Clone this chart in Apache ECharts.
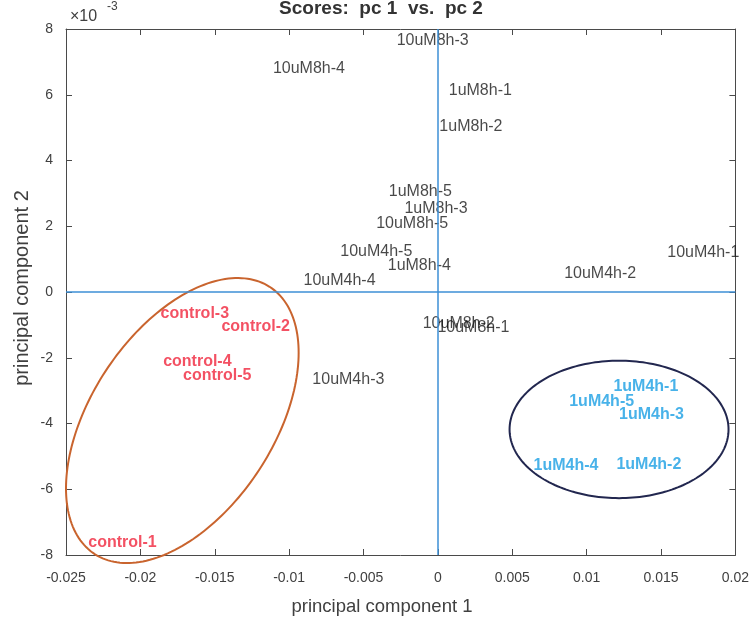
<!DOCTYPE html>
<html>
<head>
<meta charset="utf-8">
<script src="https://cdn.jsdelivr.net/npm/echarts/dist/echarts.min.js"></script>
<style>
  html, body { margin: 0; padding: 0; background: #ffffff; }
  #chart { width: 752px; height: 625px; }
</style>
</head>
<body>
<div id="chart"></div>
<script>
const FONT = '"Liberation Sans", Arial, Helvetica, sans-serif';

// PCA scores. pc1 in raw units, pc2 in units of 1e-3 (see the axis multiplier).
const otherLabels = ['10uM8h-3', '10uM8h-4', '1uM8h-1', '1uM8h-2', '1uM8h-5', '1uM8h-3', '10uM8h-5',
  '10uM4h-5', '1uM8h-4', '10uM4h-4', '10uM8h-2', '10uM8h-1', '10uM4h-3', '10uM4h-2', '10uM4h-1'];
const otherPc1 = [-0.00277, -0.01109, 0.00073, 0.00010, -0.00330, -0.00225, -0.00415,
  -0.00656, -0.00337, -0.00903, -0.00102, -0.00003, -0.00844, 0.00849, 0.01542];
const otherPc2 = [7.64, 6.80, 6.12, 5.03, 3.05, 2.53, 2.07,
  1.23, 0.79, 0.34, -0.96, -1.08, -2.65, 0.57, 1.20];

const lowDoseLabels = ['1uM4h-1', '1uM4h-5', '1uM4h-3', '1uM4h-4', '1uM4h-2'];
const lowDosePc1 = [0.01180, 0.00883, 0.01218, 0.00643, 0.01200];
const lowDosePc2 = [-2.88, -3.34, -3.74, -5.28, -5.26];

const controlLabels = ['control-3', 'control-2', 'control-4', 'control-5', 'control-1'];
const controlPc1 = [-0.01864, -0.01455, -0.01847, -0.01713, -0.02350];
const controlPc2 = [-0.65, -1.06, -2.12, -2.53, -7.63];

// Axis ranges and tick steps
const pc1Range = [-0.025, 0.02];
const pc1Step = 0.005;
const pc2Range = [-8, 8];
const pc2Step = 2;

// Group outlines: [centre pc1, centre pc2, half-extent pc1, half-extent pc2, phase]
const controlOutline = [-0.01718, -3.91, 0.00782, 4.335, 1.075];
const lowDoseOutline = [0.01218, -4.18, 0.00736, 2.09, Math.PI / 2];

function points(xs, ys, names) {
  return xs.map((x, i) => ({ name: names[i], value: [x, ys[i]] }));
}

function labelSeries(xs, ys, names, color, weight) {
  return {
    type: 'scatter',
    data: points(xs, ys, names),
    symbolSize: 0,
    itemStyle: { color: 'rgba(0,0,0,0)' },
    silent: true,
    z: 4,
    label: {
      show: true,
      position: 'right',
      distance: 0,
      formatter: '{b}',
      color: color,
      fontFamily: FONT,
      fontSize: 16,
      fontWeight: weight
    }
  };
}

function outlineSeries(shape, color, width) {
  return {
    type: 'custom',
    data: [shape],
    encode: { x: 0, y: 1 },
    silent: true,
    clip: false,
    z: 3,
    renderItem: function (params, api) {
      const cx = api.value(0), cy = api.value(1);
      const ex = api.value(2), ey = api.value(3), ph = api.value(4);
      const pts = [];
      const n = 200;
      for (let i = 0; i < n; i++) {
        const t = (i / n) * Math.PI * 2;
        pts.push(api.coord([cx + ex * Math.cos(t), cy + ey * Math.cos(t - ph)]));
      }
      return {
        type: 'polygon',
        shape: { points: pts },
        style: { fill: 'none', stroke: color, lineWidth: width }
      };
    }
  };
}

const axisColor = '#4a4a4a';

function pc1Axis(pos, showLabel) {
  return {
    type: 'value',
    position: pos,
    min: pc1Range[0],
    max: pc1Range[1],
    interval: pc1Step,
    axisLine: { show: true, onZero: false, lineStyle: { color: axisColor, width: 1 } },
    axisTick: { show: true, inside: true, length: 6, lineStyle: { color: axisColor } },
    splitLine: { show: false },
    axisLabel: {
      show: showLabel,
      margin: 16,
      color: '#404040',
      fontFamily: FONT,
      fontSize: 14,
      formatter: v => String(+v.toFixed(3))
    }
  };
}

function pc2Axis(pos, showLabel) {
  return {
    type: 'value',
    position: pos,
    min: pc2Range[0],
    max: pc2Range[1],
    interval: pc2Step,
    axisLine: { show: true, onZero: false, lineStyle: { color: axisColor, width: 1 } },
    axisTick: { show: true, inside: true, length: 6, lineStyle: { color: axisColor } },
    splitLine: { show: false },
    axisLabel: {
      show: showLabel,
      margin: 13,
      color: '#404040',
      fontFamily: FONT,
      fontSize: 14,
      formatter: v => String(Math.round(v))
    }
  };
}

const zeroLines = {
  silent: true,
  symbol: 'none',
  label: { show: false },
  lineStyle: { color: '#3d8fd6', width: 1.5, type: 'solid' },
  data: [{ xAxis: 0 }, { yAxis: 0 }]
};

const otherSeries = labelSeries(otherPc1, otherPc2, otherLabels, '#1a1a1a', 'normal');
otherSeries.markLine = zeroLines;

const chart = echarts.init(document.getElementById('chart'));
chart.setOption({
  animation: false,
  backgroundColor: '#ffffff',
  grid: { left: 66, right: 15, top: 29, bottom: 70, containLabel: false },
  xAxis: [pc1Axis('bottom', true), pc1Axis('top', false)],
  yAxis: [pc2Axis('left', true), pc2Axis('right', false)],
  series: [
    outlineSeries(controlOutline, '#c9642e', 2),
    outlineSeries(lowDoseOutline, '#22274f', 2),
    otherSeries,
    labelSeries(lowDosePc1, lowDosePc2, lowDoseLabels, '#1a9fe3', 'bold'),
    labelSeries(controlPc1, controlPc2, controlLabels, '#f0263c', 'bold')
  ],
  graphic: [
    {
      type: 'text', x: 381, y: 9,
      style: { text: 'Scores:  pc 1  vs.  pc 2', font: 'bold 19px ' + FONT, fill: '#333333', align: 'center', verticalAlign: 'middle' }
    },
    {
      type: 'text', x: 70, y: 17,
      style: { text: '\u00d710', font: '16px ' + FONT, fill: '#404040', verticalAlign: 'middle' }
    },
    {
      type: 'text', x: 107, y: 7,
      style: { text: '-3', font: '12px ' + FONT, fill: '#404040', verticalAlign: 'middle' }
    },
    {
      type: 'text', x: 382, y: 607,
      style: { text: 'principal component 1', font: '18.5px ' + FONT, fill: '#404040', align: 'center', verticalAlign: 'middle' }
    },
    {
      type: 'text', x: 22, y: 288, rotation: Math.PI / 2,
      style: { text: 'principal component 2', font: '20px ' + FONT, fill: '#404040', align: 'center', verticalAlign: 'middle' }
    }
  ]
});
</script>
</body>
</html>
